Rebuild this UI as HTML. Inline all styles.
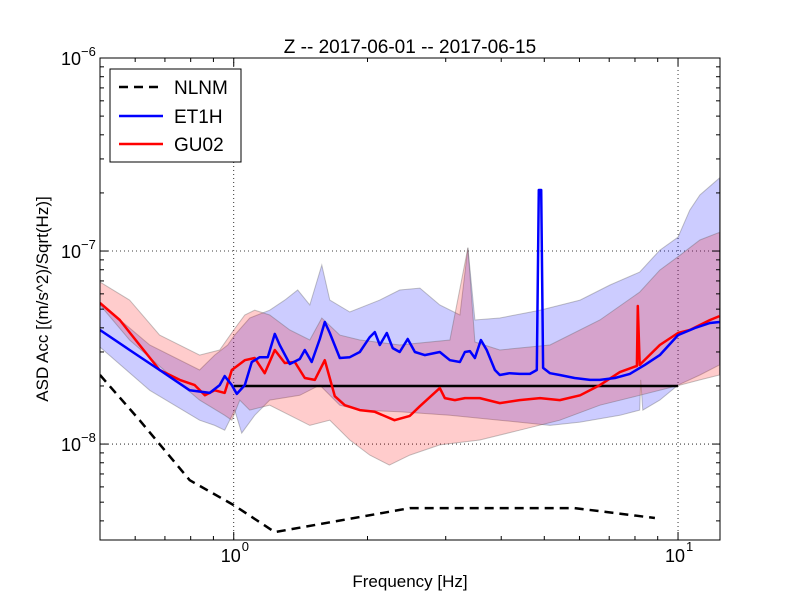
<!DOCTYPE html>
<html><head><meta charset="utf-8">
<style>
body{margin:0;background:#fff;}
svg text{font-family:"Liberation Sans","DejaVu Sans",sans-serif;}
</style></head>
<body>
<svg id="chart" width="800" height="600" xmlns="http://www.w3.org/2000/svg">
<rect width="800" height="600" fill="#fff"/>
<g id="plot"></g>
</svg>
<script>
// ---- data (ASD values in units of 1e-8 (m/s^2)/sqrt(Hz)) ----
const nlnmFreq=[0.5,0.614,0.796,1.0,1.237,2.49,5.85,8.87];
const nlnmVal=[2.28,1.33,0.65,0.483,0.35,0.466,0.466,0.414];

const et1hFreq=[0.5,0.583,0.681,0.796,0.883,0.93,0.954,0.99,1.016,1.059,1.098,1.144,1.193,1.237,1.269,1.337,1.408,1.445,1.498,1.562,1.603,1.645,1.733,1.825,1.922,2.024,2.077,2.132,2.211,2.279,2.364,2.464,2.557,2.69,2.91,3.065,3.228,3.313,3.4,3.49,3.6,3.71,3.87,3.97,4.18,4.4,4.64,4.81,4.86,4.92,4.97,5.15,5.42,5.85,6.34,6.67,7.21,7.79,8.42,9.1,10.0,10.9,11.8,12.4];
const et1hVal=[3.9,3.07,2.42,1.9,1.84,2.02,2.25,2.02,1.82,2.02,2.66,2.82,2.82,3.72,3.26,2.6,2.76,3.07,2.66,3.5,4.29,3.76,2.79,2.82,3.0,3.58,3.8,3.26,3.76,3.14,3.0,3.5,3.0,2.89,3.0,2.72,2.66,3.0,3.03,2.79,3.46,3.07,2.42,2.28,2.33,2.31,2.31,2.42,20.7,20.7,2.48,2.33,2.28,2.2,2.15,2.15,2.2,2.31,2.57,2.89,3.67,3.99,4.24,4.29];

const gu02Freq=[0.5,0.554,0.614,0.681,0.756,0.817,0.861,0.906,0.954,0.99,1.059,1.115,1.174,1.237,1.303,1.372,1.445,1.522,1.603,1.688,1.778,1.922,2.077,2.30,2.49,2.624,2.91,2.986,3.146,3.313,3.58,3.97,4.4,4.89,5.42,6.02,6.67,7.4,8.08,8.12,8.2,9.1,10.0,10.63,11.8,12.4];
const gu02Val=[5.38,4.39,3.26,2.42,2.15,2.02,1.79,1.9,1.84,2.42,2.72,2.79,2.33,3.07,2.63,2.66,2.2,2.15,2.72,1.77,1.59,1.5,1.47,1.33,1.4,1.57,1.95,1.73,1.69,1.73,1.73,1.63,1.69,1.73,1.69,1.79,2.02,2.36,2.54,5.19,2.57,3.26,3.76,3.9,4.39,4.6];

const etHiFreq=[0.5,0.647,0.838,0.906,0.969,1.005,1.086,1.205,1.303,1.393,1.483,1.578,1.645,1.825,2.132,2.364,2.624,2.91,3.228,3.365,3.49,3.97,4.89,6.02,7.03,8.2,9.1,10.0,10.63,11.2,12.4];
const etHiVal=[5.38,3.26,2.42,2.89,3.26,3.67,4.5,4.94,5.57,6.28,5.25,8.46,5.57,4.83,5.57,6.28,6.43,5.25,4.66,10.4,4.39,4.5,4.94,5.57,6.67,7.78,10.1,11.8,16.3,19.5,23.9];
const etLoFreq=[0.5,0.647,0.838,0.906,0.954,1.005,1.042,1.115,1.205,1.408,1.562,1.733,1.922,2.364,3.065,3.97,5.15,6.02,7.4,8.2,8.24,8.33,9.1,10.0,11.2,12.4];
const etLoVal=[3.18,1.9,1.33,1.25,1.18,1.5,1.14,1.41,1.69,1.79,2.02,1.59,1.5,1.47,1.41,1.33,1.25,1.3,1.41,1.5,2.15,1.5,1.69,2.02,2.28,2.57];

const guHiFreq=[0.5,0.583,0.681,0.838,0.93,1.0,1.059,1.115,1.205,1.337,1.483,1.578,1.733,1.922,2.364,3.065,3.365,3.49,3.97,5.15,6.67,8.2,9.1,10.1,11.2,12.4];
const guHiVal=[6.91,5.57,3.67,2.89,3.07,3.9,4.66,4.94,4.66,3.9,3.46,4.5,3.67,3.46,3.26,3.46,10.4,3.38,3.07,3.26,4.39,6.13,7.97,9.5,11.4,12.5];
const guLoFreq=[0.5,0.583,0.718,0.838,0.954,0.99,1.032,1.086,1.205,1.337,1.483,1.645,1.825,2.024,2.24,2.49,2.91,3.58,4.4,5.42,6.67,8.2,10.1,11.2,12.4];
const guLoVal=[5.25,3.46,2.28,1.69,1.41,1.33,1.69,1.5,1.59,1.41,1.25,1.33,1.05,0.877,0.778,0.877,0.99,1.05,1.18,1.33,1.59,1.79,2.02,2.15,2.28];

const refLineFreq=[1,10];
const refLineVal=[2,2];

const xTickVals=[1,10];
const xTickExp=["0","1"];
const yTickVals=[1e-8,1e-7,1e-6];
const yTickExp=["−8","−7","−6"];

// ---- axes ----
const L=100,R=720,T=58,B=540;
const xMin=Math.log10(0.5),xMax=Math.log10(12.43);
const yMin=-8.497,yMax=-6;
const xs=f=>L+(Math.log10(f)-xMin)/(xMax-xMin)*(R-L);
const ys=v=>B-(Math.log10(v*1e-8)-yMin)/(yMax-yMin)*(B-T);
const ysAbs=v=>B-(Math.log10(v)-yMin)/(yMax-yMin)*(B-T);

const NS="http://www.w3.org/2000/svg";
const g=document.getElementById('plot');
function mk(tag,attrs,parent){const e=document.createElementNS(NS,tag);for(const k in attrs)e.setAttribute(k,attrs[k]);(parent||g).appendChild(e);return e;}
const pts=(fa,va)=>fa.map((f,i)=>xs(f).toFixed(1)+','+ys(va[i]).toFixed(1));

mk('clipPath',{id:'clip'}).appendChild(document.createElementNS(NS,'rect'));
const cr=g.querySelector('#clip rect');cr.setAttribute('x',L);cr.setAttribute('y',T);cr.setAttribute('width',R-L);cr.setAttribute('height',B-T);
const pg=mk('g',{'clip-path':'url(#clip)'});

// grid
xTickVals.forEach(v=>{const l=mk('line',{x1:xs(v),x2:xs(v),y1:T,y2:B,stroke:'#000','stroke-width':0.8,'stroke-dasharray':'1,3'},pg);

});
yTickVals.forEach(v=>{const l=mk('line',{x1:L,x2:R,y1:ysAbs(v),y2:ysAbs(v),stroke:'#000','stroke-width':0.8,'stroke-dasharray':'1,3'},pg);

});

function band(hf,hv,lf,lv,color,name){
  const p=pts(hf,hv).concat(pts(lf,lv).reverse());
  const e=mk('polygon',{points:p.join(' '),fill:color,'fill-opacity':0.2,stroke:'#555','stroke-opacity':0.35,'stroke-width':1},pg);
  
  
}
band(etHiFreq,etHiVal,etLoFreq,etLoVal,'#0000ff','et1h-band');
band(guHiFreq,guHiVal,guLoFreq,guLoVal,'#ff0000','gu02-band');

let e;
e=mk('polyline',{points:pts(refLineFreq,refLineVal).join(' '),fill:'none',stroke:'#000','stroke-width':2.5},pg);


e=mk('polyline',{points:pts(gu02Freq,gu02Val).join(' '),fill:'none',stroke:'#ff0000','stroke-width':2.5,'stroke-linejoin':'round'},pg);


e=mk('polyline',{points:pts(et1hFreq,et1hVal).join(' '),fill:'none',stroke:'#0000ff','stroke-width':2.5,'stroke-linejoin':'round'},pg);


e=mk('polyline',{points:pts(nlnmFreq,nlnmVal).join(' '),fill:'none',stroke:'#000','stroke-width':2.5,'stroke-dasharray':'9,6'},pg);



// frame
e=mk('rect',{x:L,y:T,width:R-L,height:B-T,fill:'none',stroke:'#000','stroke-width':1});



// minor/major ticks
for(let d=-1;d<=1;d++)for(let m=1;m<10;m++){const f=m*Math.pow(10,d);if(f<0.5||f>12.43)continue;const x=xs(f);const len=m===1?8:4;
 mk('line',{x1:x,x2:x,y1:B,y2:B-len,stroke:'#000'});mk('line',{x1:x,x2:x,y1:T,y2:T+len,stroke:'#000'});}
for(let d=-9;d<=-6;d++)for(let m=1;m<10;m++){const v=m*Math.pow(10,d);const y=ysAbs(v);if(y<T-0.5||y>B+0.5)continue;const len=m===1?8:4;
 mk('line',{x1:L,x2:L+len,y1:y,y2:y,stroke:'#000'});mk('line',{x1:R,x2:R-len,y1:y,y2:y,stroke:'#000'});}

// tick labels
xTickVals.forEach((v,i)=>{const t=mk('text',{x:xs(v)-3,y:562,'font-size':18,'text-anchor':'middle'});t.textContent='10';
 
 
 const s=mk('text',{x:xs(v)+8,y:551,'font-size':13});s.textContent=xTickExp[i];});
yTickVals.forEach((v,i)=>{const y=ysAbs(v);const t=mk('text',{x:81,y:y+7,'font-size':18,'text-anchor':'end'});t.textContent='10';
 
 
 const s=mk('text',{x:81,y:y-2,'font-size':13});s.textContent=yTickExp[i];});
</script>
<svg style="position:absolute;left:0;top:0" width="800" height="600" xmlns="http://www.w3.org/2000/svg">
<text x="410" y="53" font-size="19" text-anchor="middle" font-family="Liberation Sans, sans-serif">Z -- 2017-06-01 -- 2017-06-15</text>
<text x="410" y="587" font-size="17" text-anchor="middle" font-family="Liberation Sans, sans-serif">Frequency [Hz]</text>
<text transform="translate(48,299) rotate(-90)" font-size="17" text-anchor="middle" font-family="Liberation Sans, sans-serif">ASD Acc [(m/s^2)/Sqrt(Hz)]</text>
<g>
<rect x="110" y="69" width="131" height="93" fill="#fff" stroke="#000" stroke-width="1"/>
<g><line x1="119" y1="87" x2="163" y2="87" stroke="#000" stroke-width="2.5" stroke-dasharray="9,6"/><text x="174" y="94" font-size="19" font-family="Liberation Sans, sans-serif">NLNM</text></g>
<g><line x1="119" y1="116" x2="163" y2="116" stroke="#0000ff" stroke-width="2.5"/><text x="174" y="123" font-size="19" font-family="Liberation Sans, sans-serif">ET1H</text></g>
<g><line x1="119" y1="144" x2="163" y2="144" stroke="#ff0000" stroke-width="2.5"/><text x="174" y="151" font-size="19" font-family="Liberation Sans, sans-serif">GU02</text></g>
</g>
</svg>
</body></html>
